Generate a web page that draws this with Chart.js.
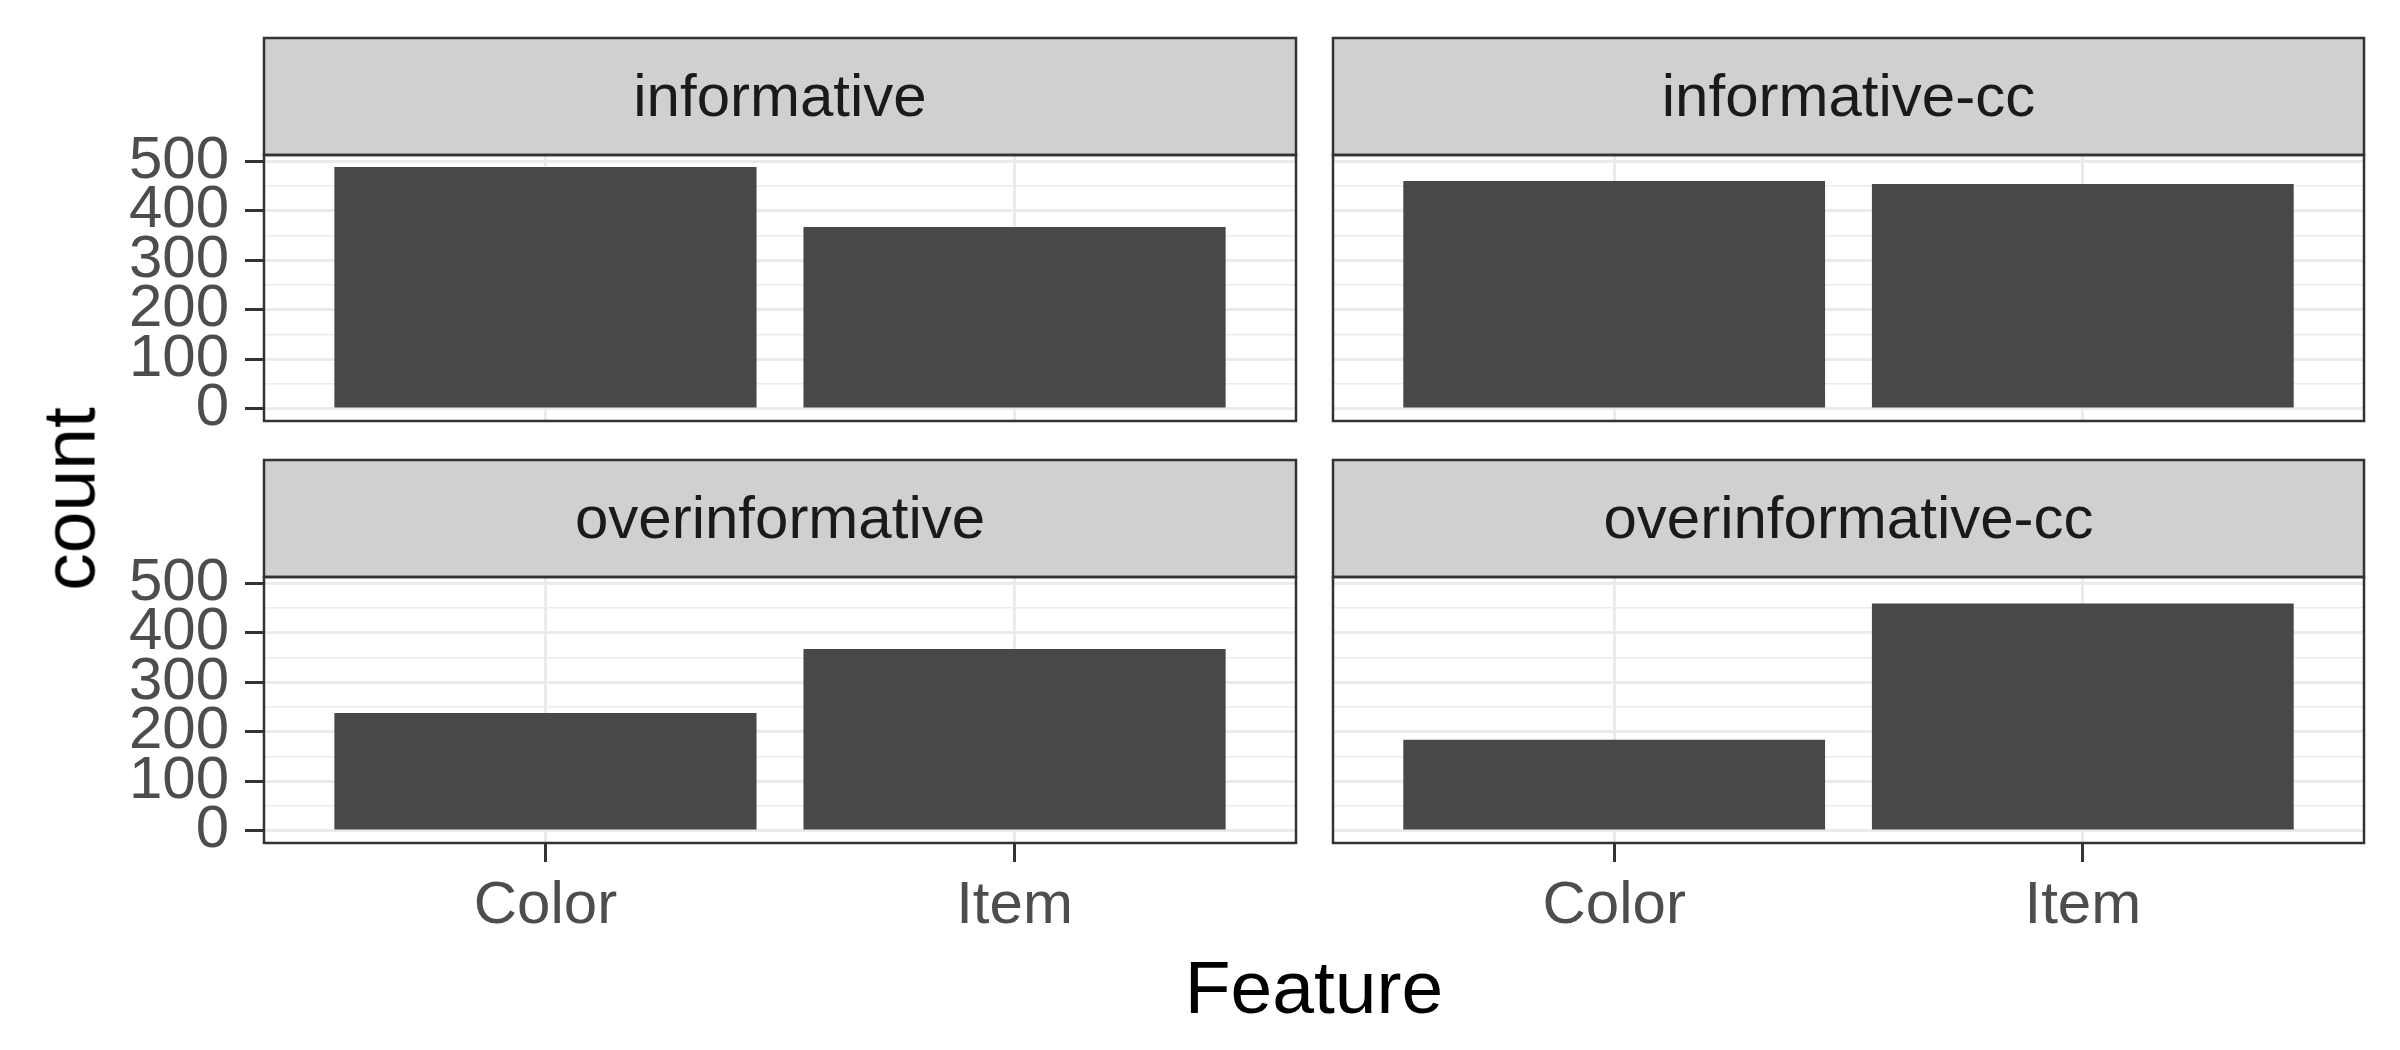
<!DOCTYPE html>
<html><head><meta charset="utf-8">
<script src="https://cdn.jsdelivr.net/npm/chart.js@4.4.1/dist/chart.umd.min.js"></script>
<style>
html,body{margin:0;padding:0;background:#fff;}
body{width:2400px;height:1050px;position:relative;overflow:hidden;font-family:"Liberation Sans",Arial,sans-serif;}
canvas{position:absolute;}
.ttl{position:absolute;color:#000;font-size:75px;line-height:1;white-space:nowrap;font-family:"Liberation Sans",Arial,sans-serif;}
</style></head><body>
<canvas id="c0" width="1310" height="440" style="left:0;top:0"></canvas>
<canvas id="c1" width="1090" height="440" style="left:1310px;top:0"></canvas>
<canvas id="c2" width="1310" height="520" style="left:0;top:440px"></canvas>
<canvas id="c3" width="1090" height="520" style="left:1310px;top:440px"></canvas>
<div class="ttl" id="xt"></div>
<div class="ttl" id="yt"></div>
<script>
// ---- data ----
const categories = ["Color", "Item"];
const panelNames = ["informative", "informative-cc", "overinformative", "overinformative-cc"];
const informative = [488, 367];
const informativeCC = [460, 454];
const overinformative = [238, 367];
const overinformativeCC = [184, 459];
const yMajorTicks = [0, 100, 200, 300, 400, 500];
const yMinorTicks = [50, 150, 250, 350, 450];
const xAxisTitle = "Feature";
const yAxisTitle = "count";

const panelValues = [informative, informativeCC, overinformative, overinformativeCC];

// ---- shared scale (ggplot-like 5% expansion) ----
const allVals = panelValues.flat();
const dataMax = Math.max(...allVals);
const yMin = -0.05 * dataMax;
const yMax = dataMax * 1.05;
const xMin = 1 - 0.6, xMax = categories.length + 0.6;

Chart.defaults.font.family = '"Liberation Sans", Arial, sans-serif';

const facetPlugin = {
  id: 'facet',
  beforeDraw(chart) {
    const ctx = chart.ctx, a = chart.chartArea, t = chart.titleBlock;
    ctx.save();
    ctx.fillStyle = '#d0d0d0';
    ctx.fillRect(a.left, t.top, a.right - a.left, a.top - t.top);
    ctx.restore();
  },
  afterDraw(chart) {
    const ctx = chart.ctx, a = chart.chartArea, t = chart.titleBlock;
    ctx.save();
    ctx.strokeStyle = '#333333';
    ctx.lineWidth = 2.5;
    ctx.strokeRect(a.left, t.top, a.right - a.left, a.top - t.top);
    ctx.strokeRect(a.left, a.top, a.right - a.left, a.bottom - a.top);
    ctx.restore();
  }
};

const zeroPad = s => { s.paddingTop = 0; s.paddingBottom = 0; s.paddingLeft = 0; s.paddingRight = 0; };

const layouts = [
  {showX: false, showY: true,  pad: {left: 0, right: 14, top: 38, bottom: 0}, yW: 264, xH: 19},
  {showX: false, showY: false, pad: {left: 0, right: 36, top: 38, bottom: 0}, yW: 23,  xH: 19},
  {showX: true,  showY: true,  pad: {left: 0, right: 14, top: 20, bottom: 0}, yW: 264, xH: 117},
  {showX: true,  showY: false, pad: {left: 0, right: 36, top: 20, bottom: 0}, yW: 23,  xH: 117}
];

panelValues.forEach((vals, i) => {
  const L = layouts[i];
  new Chart(document.getElementById('c' + i), {
    type: 'bar',
    data: {
      datasets: [{
        data: vals.map((v, j) => ({x: j + 1, y: v})),
        backgroundColor: '#484848',
        borderWidth: 0,
        barPercentage: 0.9,
        categoryPercentage: 1.0
      }]
    },
    options: {
      responsive: false,
      animation: false,
      devicePixelRatio: 1,
      layout: {padding: L.pad},
      plugins: {
        legend: {display: false},
        tooltip: {enabled: false},
        title: {
          display: true,
          text: panelNames[i],
          fullSize: false,
          color: '#1a1a1a',
          font: {size: 60, weight: 'normal', lineHeight: 1.2},
          padding: {top: 25.5, bottom: 19.5}
        }
      },
      scales: {
        x: {
          type: 'linear',
          min: xMin, max: xMax,
          offset: false,
          afterBuildTicks: s => { s.ticks = categories.map((c, j) => ({value: j + 1})); },
          afterFit: s => { s.height = L.xH; zeroPad(s); },
          ticks: {
            display: L.showX, autoSkip: false, maxRotation: 0, padding: 8,
            color: '#4d4d4d', font: {size: 60},
            callback: v => categories[Math.round(v) - 1]
          },
          grid: {
            offset: false,
            color: '#ebebeb', lineWidth: 3, drawTicks: L.showX,
            tickLength: 19, tickColor: '#333333', tickWidth: 3
          },
          border: {display: false}
        },
        y: {
          type: 'linear',
          min: yMin, max: yMax,
          afterBuildTicks: s => {
            s.ticks = yMajorTicks.concat(yMinorTicks).sort((a, b) => a - b).map(v => ({value: v}));
          },
          afterFit: s => { s.width = L.yW; zeroPad(s); },
          ticks: {
            display: L.showY, autoSkip: false, padding: 16,
            color: '#4d4d4d', font: {size: 60},
            callback: v => yMajorTicks.includes(v) ? String(v) : ''
          },
          grid: {
            color: '#ebebeb',
            lineWidth: c => (c.tick && yMajorTicks.includes(c.tick.value)) ? 3 : 1.5,
            drawTicks: L.showY, tickLength: 19,
            tickColor: c => (c.tick && yMajorTicks.includes(c.tick.value)) ? '#333333' : 'rgba(0,0,0,0)',
            tickWidth: 3
          },
          border: {display: false}
        }
      }
    },
    plugins: [facetPlugin]
  });
});

const xt = document.getElementById('xt');
xt.textContent = xAxisTitle;
xt.style.left = '1314px';
xt.style.top = '950px';
xt.style.transform = 'translateX(-50%)';

const yt = document.getElementById('yt');
yt.textContent = yAxisTitle;
yt.style.left = '69px';
yt.style.top = '499px';
yt.style.transform = 'translate(-50%,-50%) rotate(-90deg)';
</script>
</body></html>
